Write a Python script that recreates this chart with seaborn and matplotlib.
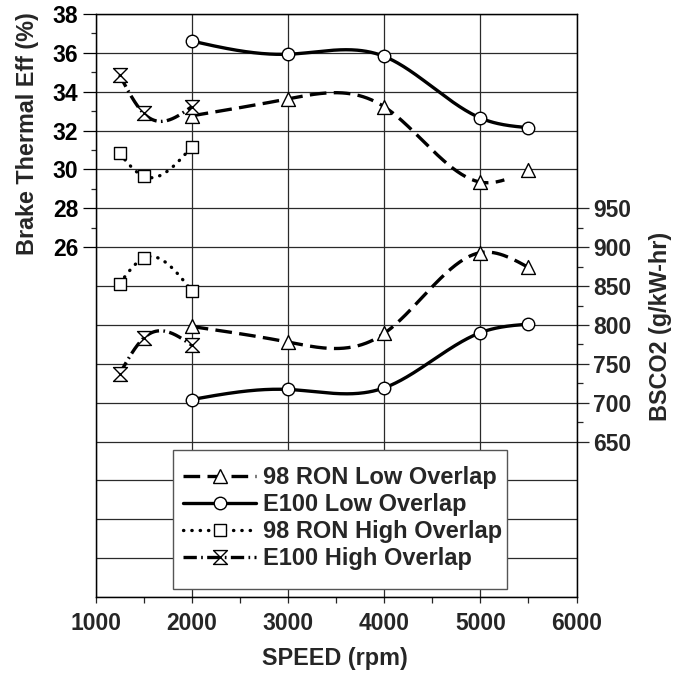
import numpy as np
import matplotlib
matplotlib.use("Agg")
import matplotlib.pyplot as plt
import seaborn as sns
from matplotlib.path import Path
from matplotlib.lines import Line2D
from matplotlib.patches import Rectangle

# ---------------- data ----------------
speed_low = [2000, 3000, 4000, 5000, 5500]
speed_high = [1250, 1500, 2000]

bte_98_low = [32.76, 33.63, 33.23, 29.35, 29.99]
bte_e100_low = [36.61, 35.93, 35.82, 32.65, 32.15]
bte_98_high = [30.83, 29.65, 31.16]
bte_e100_high = [34.86, 32.89, 33.23]

bsco2_98_low = [798, 778, 789, 893, 874]
bsco2_e100_low = [704, 717, 719, 790, 801]
bsco2_98_high = [853, 886, 844]
bsco2_e100_high = [737, 783, 774]

series_names = ["98 RON Low Overlap", "E100 Low Overlap",
                "98 RON High Overlap", "E100 High Overlap"]
x_ticks = [1000, 2000, 3000, 4000, 5000, 6000]
left_ticks = [26, 28, 30, 32, 34, 36, 38]
right_ticks = [650, 700, 750, 800, 850, 900, 950]

# ---------------- style ----------------
sns.set_style("ticks")
plt.rcParams["font.family"] = ["Liberation Sans", "DejaVu Sans"]
plt.rcParams["font.weight"] = "bold"
plt.rcParams["font.size"] = 16

W, H = 685, 675
fig = plt.figure(figsize=(W / 100, H / 100), dpi=100)
L, R, T, B = 95.5, 576.5, 14, 597
ax = fig.add_axes([L / W, 1 - B / H, (R - L) / W, (B - T) / H])
ax2 = ax.twinx()


def natural_spline(x, y, x_end=None, n=300):
    x = np.asarray(x, float)
    y = np.asarray(y, float)
    k = len(x)
    h = np.diff(x)
    A = np.zeros((k, k))
    b = np.zeros(k)
    A[0, 0] = A[-1, -1] = 1
    for i in range(1, k - 1):
        A[i, i - 1] = h[i - 1]
        A[i, i] = 2 * (h[i - 1] + h[i])
        A[i, i + 1] = h[i]
        b[i] = 6 * ((y[i + 1] - y[i]) / h[i] - (y[i] - y[i - 1]) / h[i - 1])
    M = np.linalg.solve(A, b)
    xs = np.linspace(x[0], x[-1] if x_end is None else x_end, n)
    idx = np.clip(np.searchsorted(x, xs) - 1, 0, k - 2)
    x0, x1 = x[idx], x[idx + 1]
    hh = x1 - x0
    t0, t1 = x1 - xs, xs - x0
    ys = ((M[idx] * t0 ** 3 + M[idx + 1] * t1 ** 3) / (6 * hh)
          + (y[idx] / hh - M[idx] * hh / 6) * t0
          + (y[idx + 1] / hh - M[idx + 1] * hh / 6) * t1)
    return xs, ys


hourglass = Path([(-1, 1), (1, 1), (-1, -1), (1, -1), (-1, 1)],
                 [Path.MOVETO, Path.LINETO, Path.LINETO, Path.LINETO, Path.CLOSEPOLY])

LW = 2.4
styles = {
    "98 RON Low Overlap": dict(ls=(0, (5.0, 2.2)), cap="butt", marker="^", ms=10),
    "E100 Low Overlap": dict(ls="-", cap="butt", marker="o", ms=9),
    "98 RON High Overlap": dict(ls=(0, (0.1, 2.4)), cap="round", marker="s", ms=8),
    "E100 High Overlap": dict(ls=(0, (4.0, 1.3, 0.5, 1.3)), cap="butt", marker=hourglass, ms=10),
}

series = [
    ("98 RON Low Overlap", ax, speed_low, bte_98_low, 5250),
    ("E100 Low Overlap", ax, speed_low, bte_e100_low, None),
    ("98 RON High Overlap", ax, speed_high, bte_98_high, None),
    ("E100 High Overlap", ax, speed_high, bte_e100_high, None),
    ("98 RON Low Overlap", ax2, speed_low, bsco2_98_low, None),
    ("E100 Low Overlap", ax2, speed_low, bsco2_e100_low, None),
    ("98 RON High Overlap", ax2, speed_high, bsco2_98_high, None),
    ("E100 High Overlap", ax2, speed_high, bsco2_e100_high, None),
]

for name, a, xs, ys, x_end in series:
    st = styles[name]
    sx, sy = natural_spline(xs, ys, x_end=x_end)
    sns.lineplot(x=sx, y=sy, ax=a, color="black", linewidth=LW,
                 linestyle=st["ls"], dash_capstyle=st["cap"],
                 estimator=None, sort=False, errorbar=None, legend=False, zorder=3)
    sns.scatterplot(x=xs, y=ys, ax=a, marker=st["marker"], s=st["ms"] ** 2,
                    color="white", edgecolor="black", linewidth=1.0,
                    zorder=5, legend=False)

# ---------------- axes ----------------
ax.set_xlim(1000, 6000)
ax.set_ylim(8, 38)
ax2.set_ylim(450, 1200)

ax.set_xticks(x_ticks)
ax.set_xticklabels([str(v) for v in x_ticks])
ax.set_xticks([1500, 2500, 3500, 4500, 5500], minor=True)

grid_vals = np.arange(8, 39, 2)
ax.set_yticks(grid_vals)
ax.set_yticklabels([str(v) if v in left_ticks else "" for v in grid_vals])
for v, tk in zip(grid_vals, ax.yaxis.get_major_ticks()):
    if v not in left_ticks:
        tk.tick1line.set_visible(False)
ax.set_yticks([27, 29, 31, 33, 35, 37], minor=True)

ax2.set_yticks(right_ticks)
ax2.set_yticklabels([str(v) for v in right_ticks])
ax2.set_yticks([675, 725, 775, 825, 875, 925], minor=True)

ax.set_axisbelow(True)
ax.grid(which="major", color="#2a2a2a", linewidth=0.9)
ax2.grid(False)

for a in (ax, ax2):
    for sp in a.spines.values():
        sp.set_visible(True)
        sp.set_color("black")
        sp.set_linewidth(0.9)

ax.tick_params(axis="y", which="major", length=9.5, width=0.9, direction="out",
               pad=3, labelsize=16.5, colors="black")
ax.tick_params(axis="y", which="minor", length=3.5, width=0.9, direction="out")
ax.tick_params(axis="x", which="both", length=4.5, width=0.9, direction="out",
               pad=6, labelsize=16.5)
ax2.tick_params(axis="y", which="major", length=8.5, width=0.9, direction="out",
                pad=3.5, labelsize=16.5)
ax2.tick_params(axis="y", which="minor", length=4, width=0.9, direction="out")

ax.set_xlabel("")
ax.set_ylabel("")
ax2.set_ylabel("")

fig.text(28 / W, 1 - 133.5 / H, "Brake Thermal Eff (%)", rotation=90,
         ha="center", va="center", fontsize=16.8, fontweight="bold")
fig.text(661 / W, 1 - 326 / H, "BSCO2 (g/kW-hr)", rotation=90,
         ha="center", va="center", fontsize=16.8, fontweight="bold")
fig.text(335 / W, 1 - 659 / H, "SPEED (rpm)", ha="center", va="center",
         fontsize=16.8, fontweight="bold")

# ---------------- legend ----------------
box = Rectangle((173 / W, 1 - 589 / H), (507 - 173) / W, (589 - 450) / H,
                transform=fig.transFigure, facecolor="white", edgecolor="#555555",
                linewidth=1.0, zorder=1)
fig.add_artist(box)

handles = []
for name in series_names:
    st = styles[name]
    handles.append(Line2D([], [], color="black", linewidth=LW, linestyle=st["ls"],
                          dash_capstyle=st["cap"], marker=st["marker"],
                          markersize=st["ms"], markerfacecolor="white",
                          markeredgecolor="black", markeredgewidth=1.0))
leg = fig.legend(handles=handles, labels=series_names, loc="upper left",
                 bbox_to_anchor=(183 / W, 1 - 466 / H), frameon=False,
                 borderpad=0, borderaxespad=0, handlelength=3.1, handletextpad=0.3,
                 labelspacing=0.17, numpoints=1, prop=dict(size=17, weight="bold"))
leg.set_zorder(5)

fig.savefig("out.png", dpi=100)
